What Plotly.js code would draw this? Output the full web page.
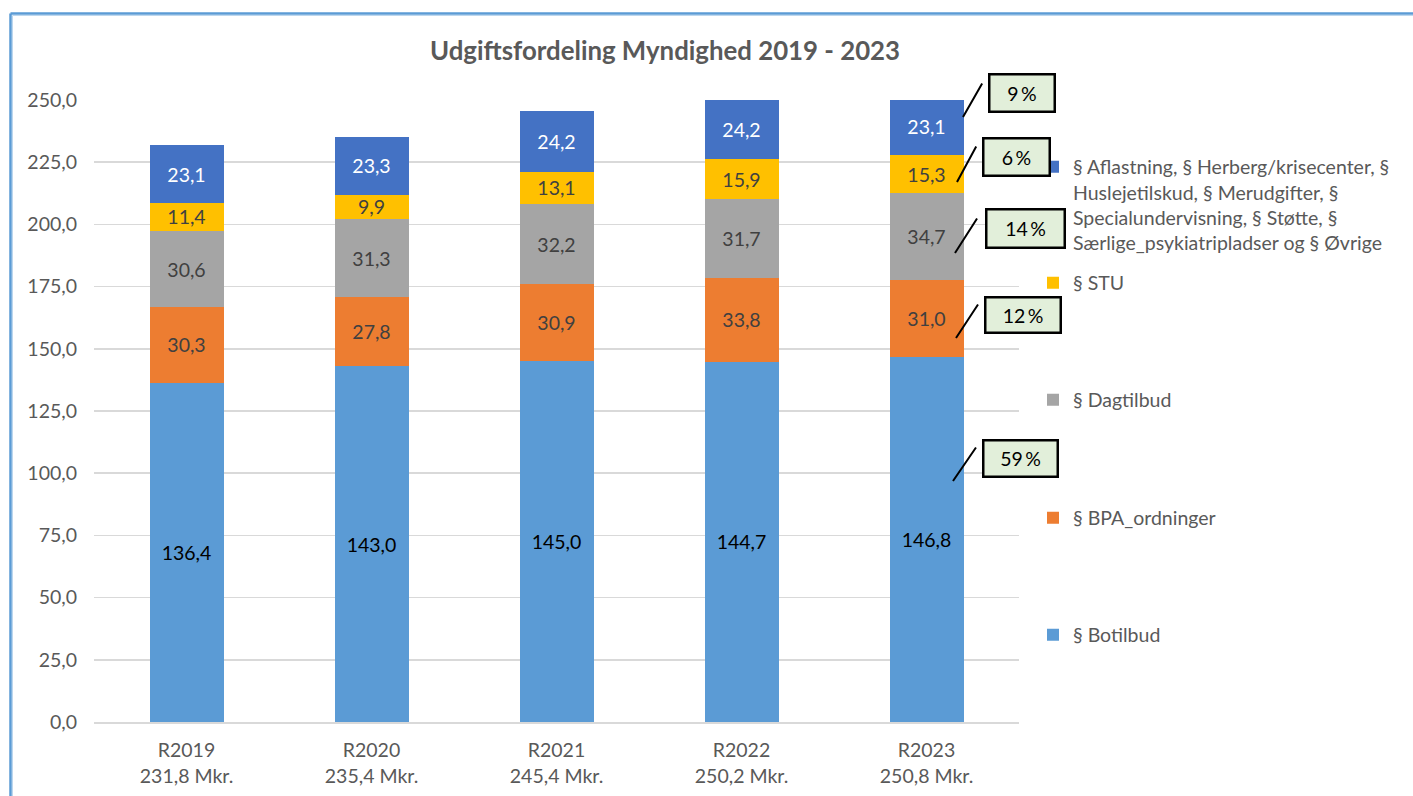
<!DOCTYPE html>
<html>
<head>
<meta charset="utf-8">
<script src="https://cdn.plot.ly/plotly-3.0.1.min.js"></script>
<style>
  html, body { margin: 0; padding: 0; background: #ffffff; }
  #chart { width: 1413px; height: 796px; }
</style>
</head>
<body>
<div id="chart"></div>
<script>
// ---- Data ----
const categories = ['R2019', 'R2020', 'R2021', 'R2022', 'R2023'];
const totalsMkr = [231.8, 235.4, 245.4, 250.2, 250.8];
const botilbud   = [136.4, 143.0, 145.0, 144.7, 146.8];
const bpa        = [30.3, 27.8, 30.9, 33.8, 31.0];
const dagtilbud  = [30.6, 31.3, 32.2, 31.7, 34.7];
const stu        = [11.4, 9.9, 13.1, 15.9, 15.3];
const aflastning = [23.1, 23.3, 24.2, 24.2, 23.1];
const seriesNames = [
  '§ Botilbud',
  '§ BPA_ordninger',
  '§ Dagtilbud',
  '§ STU',
  '§ Aflastning, § Herberg/krisecenter, §<br>Huslejetilskud, § Merudgifter, §<br>Specialundervisning, § Støtte, §<br>Særlige_psykiatripladser og § Øvrige'
];

// ---- Styling / layout constants ----
const FONT = 'Lato, "Open Sans", sans-serif';
const TXT = '#595959';
const FS = 19.5;
const W = 1413, H = 796;
const M = { l: 94, r: 394, t: 100, b: 74 };
const PW = W - M.l - M.r, PH = H - M.t - M.b;
const px2x = px => (px - M.l) / PW;
const px2y = py => (H - M.b - py) / PH;

const colors = ['#5B9BD5', '#ED7D31', '#A5A5A5', '#FFC000', '#4472C4'];
const labelColors = ['#000000', '#404040', '#404040', '#404040', '#FFFFFF'];
const seriesData = [botilbud, bpa, dagtilbud, stu, aflastning];
const legendIds = ['legend5', 'legend4', 'legend3', 'legend2', 'legend'];
const legendCenterPx = { legend: 205, legend2: 283, legend3: 400, legend4: 518, legend5: 635 };

const fmt = v => v.toFixed(1).replace('.', ',');
const tickText = categories.map((c, i) => c + '<br>' + fmt(totalsMkr[i]) + ' Mkr.');

const traces = seriesData.map((vals, i) => ({
  type: 'bar',
  name: seriesNames[i],
  x: categories,
  y: vals,
  marker: { color: colors[i], line: { width: 0 } },
  texttemplate: '%{y:.1f}',
  textposition: 'inside',
  insidetextanchor: 'middle',
  textangle: 0,
  constraintext: 'none',
  insidetextfont: { family: FONT, size: FS, color: labelColors[i] },
  hoverinfo: 'skip',
  legend: legendIds[i]
}));

// percentage call-outs for the last year (computed from the data)
const lastIdx = categories.length - 1;
const lastTotal = seriesData.reduce((s, arr) => s + arr[lastIdx], 0);
const pct = seriesData.map(arr => Math.round(arr[lastIdx] / lastTotal * 100) + '\u2009%');
// call-out box centres and sizes (pixels), ordered botilbud..aflastning
const boxPx = [
  { cx: 1020, cy: 458, w: 77, h: 39 },
  { cx: 1023, cy: 315, w: 78, h: 38 },
  { cx: 1025, cy: 228, w: 81, h: 41 },
  { cx: 1016, cy: 157, w: 69, h: 40 },
  { cx: 1022, cy: 93,  w: 68, h: 40 }
];
const linePx = [
  { x0: 953, y0: 481, x1: 977, y1: 446 },
  { x0: 956, y0: 338, x1: 979, y1: 303 },
  { x0: 955, y0: 253, x1: 978, y1: 217 },
  { x0: 957, y0: 182, x1: 977, y1: 145 },
  { x0: 963, y0: 117, x1: 983, y1: 82 }
];

const annotations = [];
boxPx.forEach((b, i) => {
  annotations.push({
    xref: 'paper', yref: 'paper', x: px2x(b.cx), y: px2y(b.cy),
    xanchor: 'center', yanchor: 'middle', showarrow: false,
    text: pct[i], font: { family: FONT, size: FS, color: '#000000' },
    bgcolor: '#E2EFDA', bordercolor: '#000000', borderwidth: 2.5, borderpad: 0,
    width: b.w - 5, height: b.h - 5, align: 'center', valign: 'middle'
  });
  const l = linePx[i];
  annotations.push({
    xref: 'paper', yref: 'paper', x: px2x(l.x0), y: px2y(l.y0),
    ax: l.x1 - l.x0, ay: l.y1 - l.y0, axref: 'pixel', ayref: 'pixel',
    text: '', showarrow: true, arrowhead: 0, arrowwidth: 2, arrowcolor: '#000000',
    standoff: 0, startstandoff: 0
  });
});

const legendBase = (id) => ({
  x: px2x(1033), xanchor: 'left',
  y: px2y(legendCenterPx[id]), yanchor: 'middle',
  bgcolor: 'rgba(0,0,0,0)', borderwidth: 0,
  font: { family: FONT, size: FS, color: TXT },
  valign: 'top', itemclick: false, itemdoubleclick: false
});

const layout = {
  width: W, height: H,
  margin: M,
  paper_bgcolor: '#ffffff', plot_bgcolor: '#ffffff',
  separators: ',.',
  barmode: 'stack',
  bargap: 0.6,
  showlegend: true,
  font: { family: FONT, size: FS, color: TXT },
  title: {
    text: 'Udgiftsfordeling Myndighed 2019 - 2023',
    font: { family: FONT, size: 25.8, color: TXT, weight: 'bold' },
    xref: 'container', yref: 'container',
    x: 665 / W, xanchor: 'center', y: 1 - 51 / H, yanchor: 'middle'
  },
  xaxis: {
    type: 'category',
    tickmode: 'array', tickvals: categories, ticktext: tickText,
    showgrid: false, zeroline: false,
    showline: true, linecolor: '#D9D9D9', linewidth: 2,
    ticks: '', ticklabelstandoff: 10,
    tickfont: { family: FONT, size: FS, color: TXT },
    fixedrange: true
  },
  yaxis: {
    range: [0, 250], tick0: 0, dtick: 25, tickformat: '.1f',
    showgrid: true, gridcolor: '#D9D9D9', gridwidth: 1.5,
    zeroline: false, showline: false, ticks: '',
    ticklabelstandoff: 16,
    tickfont: { family: FONT, size: FS, color: TXT },
    fixedrange: true
  },
  legend: legendBase('legend'),
  legend2: legendBase('legend2'),
  legend3: legendBase('legend3'),
  legend4: legendBase('legend4'),
  legend5: legendBase('legend5'),
  annotations: annotations,
  shapes: [
    { type: 'line', xref: 'paper', yref: 'paper', x0: px2x(10.5), x1: px2x(10.5), y0: px2y(13.5), y1: px2y(820), line: { color: '#5B9BD5', width: 2.5 } },
    { type: 'line', xref: 'paper', yref: 'paper', x0: px2x(10.5), x1: px2x(1440), y0: px2y(13.5), y1: px2y(13.5), line: { color: '#5B9BD5', width: 2.5 } },
    { type: 'line', xref: 'paper', yref: 'paper', x0: px2x(12.5), x1: px2x(12.5), y0: px2y(15.5), y1: px2y(820), line: { color: '#BDD7EE', width: 1 } },
    { type: 'line', xref: 'paper', yref: 'paper', x0: px2x(12.5), x1: px2x(1440), y0: px2y(15.5), y1: px2y(15.5), line: { color: '#BDD7EE', width: 1 } }
  ]
};

Plotly.newPlot('chart', traces, layout, { displayModeBar: false, staticPlot: true });
</script>
</body>
</html>
